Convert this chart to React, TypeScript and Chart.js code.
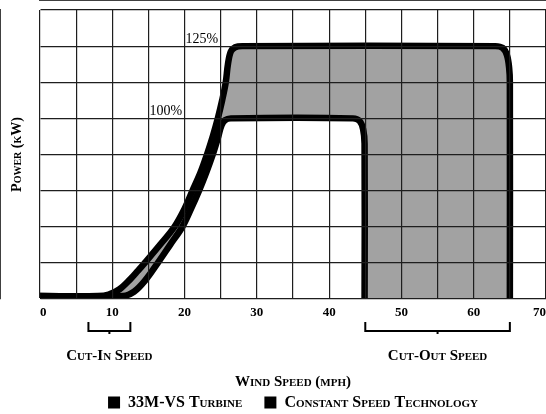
import React, { useEffect, useRef } from 'react';
import { Chart, registerables } from 'chart.js';

Chart.register(...registerables);

// ---- data ----
const seriesNames = ['33M-VS Turbine', 'Constant Speed Technology'];

// 33M-VS turbine power curve (reaches 125% level)
const vsSpeed = [0, 8, 9.5, 11, 12.5, 13.5, 14.5, 16.6, 18.6, 20, 21.1, 22.2, 23.1, 23.9, 24.6, 25.2, 25.7, 26, 26.4, 27, 28, 63, 64, 64.6, 64.9, 65, 65];
const vsPower = [0.08, 0.08, 0.12, 0.27, 0.55, 0.77, 1, 1.5, 2, 2.5, 3, 3.5, 4, 4.5, 5, 5.5, 6, 6.5, 6.85, 6.97, 7, 7, 6.95, 6.75, 6.4, 6, 0];

// constant speed technology power curve (reaches 100% level)
const csSpeed = [0, 11.5, 13, 14.5, 16.3, 18, 19.7, 20.9, 22, 23, 23.9, 24.6, 25.1, 25.6, 26.4, 43.3, 44.2, 44.7, 44.9, 44.9];
const csPower = [0.08, 0.08, 0.2, 0.5, 1, 1.5, 2, 2.5, 3, 3.5, 4, 4.45, 4.8, 4.95, 5, 5, 4.93, 4.7, 4.3, 0];

const xMin = 0;
const xMax = 70;
const xStep = 5;
const xLabelEvery = 10;
const yMin = 0;
const yMax = 8;

const levelLabels = ['125%', '100%'];
const levelSpeed = [20, 15];
const levelPower = [7, 5];

const rangeNames = ['Cut-In Speed', 'Cut-Out Speed'];
const rangeStart = [6.7, 45];
const rangeEnd = [12.5, 65];

const SERIF = '"Liberation Serif", "Times New Roman", serif';
const GRAY = '#a2a2a2';

const annotationPlugin = {
  id: 'powerAnnotations',
  afterDraw(chart: any) {
    const { ctx, chartArea } = chart;
    const x = chart.scales.x;
    const y = chart.scales.y;
    ctx.save();
    ctx.fillStyle = '#000';
    ctx.font = `14px ${SERIF}`;
    ctx.textAlign = 'left';
    ctx.textBaseline = 'alphabetic';
    levelLabels.forEach((t, i) => {
      ctx.fillText(t, x.getPixelForValue(levelSpeed[i]) + 1, y.getPixelForValue(levelPower[i]) - 3);
    });
    const b = chartArea.bottom;
    ctx.strokeStyle = '#000';
    ctx.lineWidth = 2;
    rangeNames.forEach((t, i) => {
      const x0 = x.getPixelForValue(rangeStart[i]);
      const x1 = x.getPixelForValue(rangeEnd[i]);
      const xm = (x0 + x1) / 2;
      ctx.beginPath();
      ctx.moveTo(x0, b + 23);
      ctx.lineTo(x0, b + 32);
      ctx.lineTo(x1, b + 32);
      ctx.lineTo(x1, b + 23);
      ctx.moveTo(xm, b + 32);
      ctx.lineTo(xm, b + 35);
      ctx.stroke();
      ctx.font = `small-caps bold 15px ${SERIF}`;
      ctx.textAlign = 'center';
      ctx.textBaseline = 'middle';
      ctx.fillText(t, xm, b + 57);
    });
    ctx.restore();
  },
};

export default function App() {
  const ref = useRef<HTMLCanvasElement | null>(null);

  useEffect(() => {
    document.body.style.margin = '0';
    const canvas = ref.current;
    if (!canvas) return;
    const gridColor = '#1e1e1e';
    const chart = new Chart(canvas, {
      type: 'line',
      data: {
        datasets: [
          {
            label: seriesNames[0],
            data: vsSpeed.map((s, i) => ({ x: s, y: vsPower[i] })),
            borderColor: '#000',
            backgroundColor: GRAY,
            borderWidth: 6.5,
            fill: 'origin',
            pointRadius: 0,
            tension: 0.35,
            borderJoinStyle: 'round',
            order: 2,
          },
          {
            label: seriesNames[1],
            data: csSpeed.map((s, i) => ({ x: s, y: csPower[i] })),
            borderColor: '#000',
            backgroundColor: '#ffffff',
            borderWidth: 6.5,
            fill: 'origin',
            pointRadius: 0,
            tension: 0.35,
            borderJoinStyle: 'round',
            order: 1,
          },
        ],
      },
      options: {
        responsive: false,
        animation: false,
        devicePixelRatio: 1,
        color: '#000',
        layout: { padding: { top: 10, left: 0, right: 0, bottom: -6.5 } },
        scales: {
          x: {
            type: 'linear',
            min: xMin,
            max: xMax,
            afterFit: (s: any) => { s.height = 73.5; },
            ticks: {
              stepSize: xStep,
              autoSkip: false,
              maxRotation: 0,
              align: 'inner',
              padding: 0,
              color: '#000',
              font: { family: SERIF, size: 13, weight: 'bold' },
              callback: (v: any) => (Number(v) % xLabelEvery === 0 ? String(v) : ''),
            },
            grid: { color: gridColor, lineWidth: 1.2, z: 1, drawTicks: true, tickLength: 6, tickColor: 'rgba(0,0,0,0)' },
            border: { display: true, color: '#000', width: 1.5 },
            title: {
              display: true,
              text: 'Wind Speed (mph)',
              color: '#000',
              font: { family: SERIF, size: 15, weight: 'small-caps bold' },
              padding: { top: 0, bottom: -18.5 },
            },
          },
          y: {
            type: 'linear',
            min: yMin,
            max: yMax,
            afterFit: (s: any) => { s.width = 40; },
            ticks: { stepSize: 1, display: false },
            grid: { color: gridColor, lineWidth: 1.2, z: 1, drawTicks: false },
            border: { display: true, color: '#000', width: 1.5 },
            title: {
              display: true,
              text: 'Power (kW)',
              color: '#000',
              font: { family: SERIF, size: 14, weight: 'small-caps bold' },
              padding: { top: 9, bottom: 0 },
            },
          },
        },
        plugins: {
          legend: {
            position: 'bottom',
            fullSize: false,
            labels: {
              boxWidth: 12,
              boxHeight: 12,
              padding: 22,
              color: '#000',
              font: { family: SERIF, size: 16, weight: 'small-caps bold' },
              sort: (a: any, b: any) => a.datasetIndex - b.datasetIndex,
              generateLabels: (c: any) =>
                Chart.defaults.plugins.legend.labels.generateLabels(c).map((l: any) => ({
                  ...l,
                  fillStyle: '#000',
                  strokeStyle: '#000',
                  lineWidth: 0,
                })),
            },
          },
          tooltip: { enabled: false },
        },
      },
      plugins: [annotationPlugin],
    } as any);
    return () => chart.destroy();
  }, []);

  return (
    <div style={{ width: 546, height: 414 }}>
      <canvas ref={ref} width={546} height={414} style={{ display: 'block' }} />
    </div>
  );
}
